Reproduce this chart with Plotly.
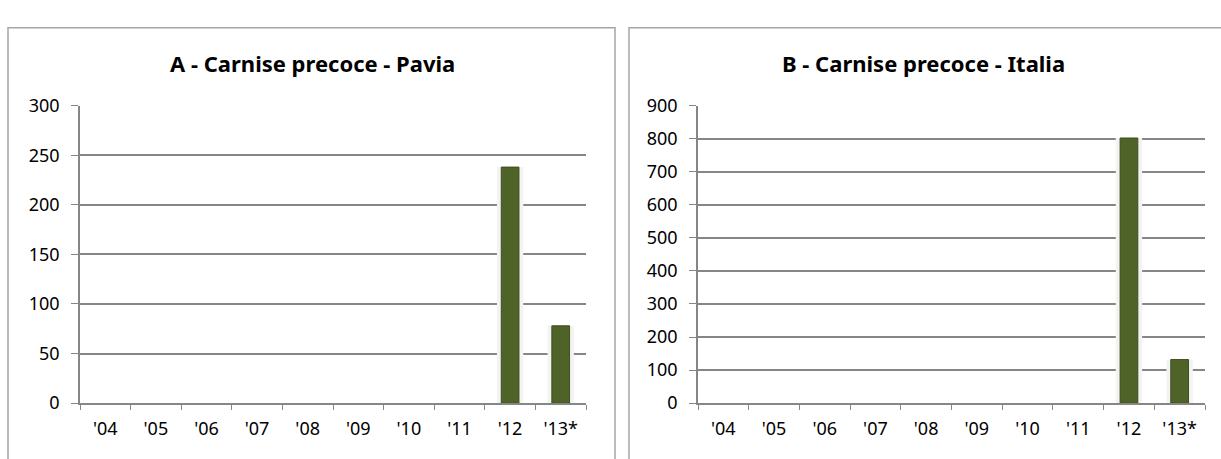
import plotly.graph_objects as go

W, H = 1221, 459

years = ["'04", "'05", "'06", "'07", "'08", "'09", "'10", "'11", "'12", "'13*"]
pavia = [None, None, None, None, None, None, None, None, 238, 78]
italia = [None, None, None, None, None, None, None, None, 802, 132]

title_a = "A - Carnise precoce - Pavia"
title_b = "B - Carnise precoce - Italia"

BAR = "#4f6228"
GRID = "#868686"
FONT = "Noto Sans"


def px(x):
    return x / W


def py(y):
    return (H - y) / H


fig = go.Figure()
# soft halo behind the bars (excel shadow effect), then the bars themselves
for vals, xa, ya in [(pavia, "x", "y"), (italia, "x2", "y2")]:
    fig.add_trace(go.Bar(x=years, y=vals, xaxis=xa, yaxis=ya, width=0.52,
                         marker=dict(color="#f3f3f3", line=dict(width=0)), hoverinfo="skip"))
    fig.add_trace(go.Bar(x=years, y=vals, xaxis=xa, yaxis=ya, width=0.35,
                         marker=dict(color=BAR, line=dict(color="#3f4f20", width=1))))

xcommon = dict(type="category", showgrid=False, showline=True, linecolor=GRID, linewidth=1.5,
               ticks="outside", tickson="boundaries", ticklen=5, tickcolor=GRID,
               ticklabelstandoff=8,
               tickfont=dict(family=FONT, size=18, color="black"), fixedrange=True)
ycommon = dict(showgrid=True, gridcolor=GRID, gridwidth=1.5, showline=True, linecolor=GRID,
               linewidth=1.5, ticks="outside", ticklen=7, tickcolor=GRID, zeroline=False,
               ticklabelstandoff=8,
               tickfont=dict(family=FONT, size=18, color="black"), fixedrange=True)

ydom = [py(411.7), py(97.7)]
fig.update_layout(
    width=W, height=H, margin=dict(l=0, r=0, t=0, b=0),
    paper_bgcolor="white", plot_bgcolor="white", showlegend=False, barmode="overlay",
    xaxis=dict(domain=[px(80), px(586)], anchor="y", **xcommon),
    yaxis=dict(domain=ydom, anchor="x", range=[0, 300], dtick=50, **ycommon),
    xaxis2=dict(domain=[px(698), px(1205)], anchor="y2", **xcommon),
    yaxis2=dict(domain=ydom, anchor="x2", range=[0, 900], dtick=100, **ycommon),
)

# panel frames
for x0, x1 in [(8, 615), (629, 1226)]:
    fig.add_shape(type="rect", xref="paper", yref="paper", x0=px(x0), x1=px(x1),
                  y0=py(475), y1=py(15.5), line=dict(color="#a6a6a6", width=1.5), layer="below")

for t, xc in [(title_a, 312), (title_b, 923)]:
    fig.add_annotation(text="<b>%s</b>" % t, xref="paper", yref="paper", x=px(xc), y=py(53),
                       showarrow=False, xanchor="center", yanchor="middle",
                       font=dict(family=FONT, size=22, color="black"))

fig.write_html("out.html", config={"displayModeBar": False},
               post_script="document.body.style.margin='0';document.body.style.overflow='hidden';")
